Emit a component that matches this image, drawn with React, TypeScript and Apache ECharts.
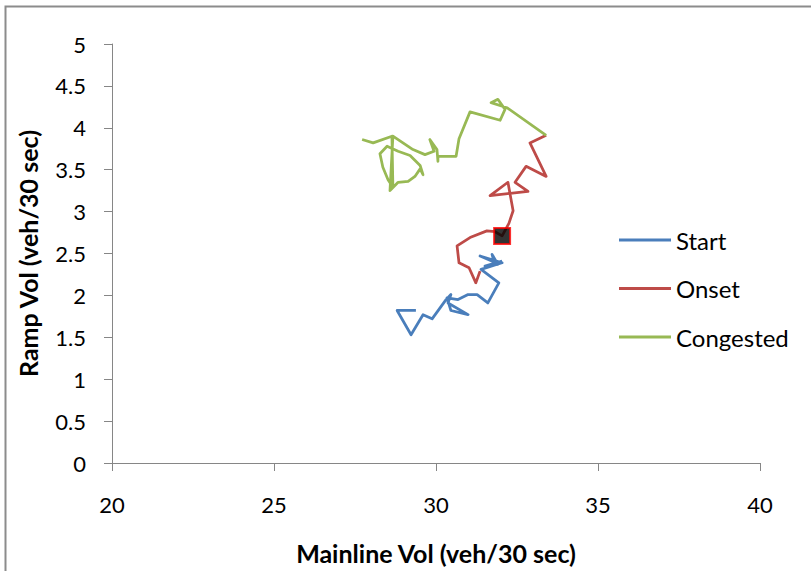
import React, { useEffect, useRef } from "react";
import * as echarts from "echarts";

// Mainline vs ramp volume trajectories (veh/30 sec)
const startMainline = [29.38, 28.8, 29.23, 29.6, 29.88, 30.31, 30.46, 30.37, 30.99, 30.46, 30.34, 30.68, 30.99, 31.27, 31.6, 31.94, 31.39, 32.04, 31.36, 31.79, 31.73, 31.91, 31.51, 32.04];
const startRamp = [1.82, 1.82, 1.53, 1.77, 1.72, 1.95, 2.01, 1.91, 1.77, 1.82, 1.97, 1.95, 2.01, 2.01, 1.91, 2.15, 2.31, 2.39, 2.47, 2.4, 2.49, 2.37, 2.35, 2.41];

const onsetMainline = [31.36, 31.23, 31.02, 30.71, 30.65, 31.05, 31.57, 31.82, 32.04, 32.25, 32.38, 32.22, 31.67, 32.84, 32.44, 32.78, 33.4, 32.9, 33.4];
const onsetRamp = [2.29, 2.15, 2.33, 2.39, 2.59, 2.69, 2.77, 2.76, 2.71, 2.86, 3.01, 3.35, 3.19, 3.24, 3.35, 3.54, 3.42, 3.82, 3.91];

const congestedMainline = [33.4, 32.19, 31.7, 31.91, 32.13, 31.98, 31.05, 30.71, 30.62, 30.06, 30.06, 30.03, 29.81, 29.94, 29.66, 29.29, 28.67, 28.58, 28.83, 29.14, 29.35, 29.51, 29.6, 29.51, 29.2, 28.83, 28.49, 28.27, 28.36, 28.52, 28.67, 28.64, 28.06, 27.72];
const congestedRamp = [3.91, 4.24, 4.3, 4.34, 4.22, 4.09, 4.19, 3.87, 3.66, 3.66, 3.6, 3.74, 3.86, 3.72, 3.68, 3.74, 3.9, 3.25, 3.35, 3.36, 3.42, 3.51, 3.44, 3.55, 3.67, 3.72, 3.78, 3.69, 3.53, 3.38, 3.29, 3.9, 3.82, 3.86];

// Highlighted transition point
const breakdownPoint = [32.04, 2.71];

const seriesNames = ["Start", "Onset", "Congested"];
const seriesColors = ["#4A7EBB", "#BE4B48", "#98B954"];

const zip = (xs: number[], ys: number[]) => xs.map((x, i) => [x, ys[i]]);

const FONT = "Lato, 'Noto Sans', sans-serif";

export default function App() {
  const ref = useRef<HTMLDivElement>(null);

  useEffect(() => {
    if (!ref.current) return;
    const chart = echarts.init(ref.current, null, { renderer: "svg" });
    const pairs = [
      zip(startMainline, startRamp),
      zip(onsetMainline, onsetRamp),
      zip(congestedMainline, congestedRamp),
    ];
    const axisLine = { show: true, lineStyle: { color: "#868686", width: 1 } };
    chart.setOption({
      animation: false,
      backgroundColor: "#ffffff",
      textStyle: { fontFamily: FONT },
      graphic: [
        {
          type: "rect",
          shape: { x: 5.5, y: 6.5, width: 900, height: 700 },
          style: { fill: "none", stroke: "#8c8c8c", lineWidth: 2 },
          silent: true,
        },
      ],
      grid: { left: 112, right: 51, top: 44, bottom: 108, containLabel: false },
      legend: {
        orient: "vertical",
        left: 619,
        top: 228,
        padding: 0,
        data: seriesNames,
        icon: "rect",
        itemWidth: 52,
        itemHeight: 3,
        itemGap: 24.5,
        textStyle: { color: "#000", fontSize: 24, lineHeight: 24, fontFamily: FONT, padding: [0, 0, 0, 0] },
      },
      xAxis: {
        type: "value",
        min: 20,
        max: 40,
        interval: 5,
        name: "Mainline Vol (veh/30 sec)",
        nameLocation: "middle",
        nameGap: 77,
        nameTextStyle: { color: "#000", fontSize: 25, fontWeight: "bold", fontFamily: FONT },
        axisLine,
        axisTick: { show: true, length: 8, lineStyle: { color: "#868686" } },
        axisLabel: { color: "#000", fontSize: 22, margin: 30, fontFamily: FONT },
        splitLine: { show: false },
      },
      yAxis: {
        type: "value",
        min: 0,
        max: 5,
        interval: 0.5,
        name: "Ramp Vol (veh/30 sec)",
        nameLocation: "middle",
        nameGap: 72,
        nameRotate: 90,
        nameTextStyle: { color: "#000", fontSize: 25, fontWeight: "bold", fontFamily: FONT },
        axisLine,
        axisTick: { show: true, length: 8, lineStyle: { color: "#868686" } },
        axisLabel: { color: "#000", fontSize: 22, margin: 26, fontFamily: FONT },
        splitLine: { show: false },
      },
      series: [
        ...seriesNames.map((name, i) => ({
          name,
          type: "line",
          data: pairs[i],
          symbol: "none",
          color: seriesColors[i],
          lineStyle: { color: seriesColors[i], width: 2.75, join: "round" },
          z: 2,
        })),
        {
          name: "Breakdown",
          type: "scatter",
          data: [breakdownPoint],
          symbol: "rect",
          symbolSize: 16,
          itemStyle: { color: "#000000", borderColor: "#FF0000", borderWidth: 2 },
          z: 5,
        },
      ],
    });
    return () => chart.dispose();
  }, []);

  return (
    <div
      ref={ref}
      style={{ position: "absolute", left: 0, top: 0, width: 811, height: 571 }}
    />
  );
}
